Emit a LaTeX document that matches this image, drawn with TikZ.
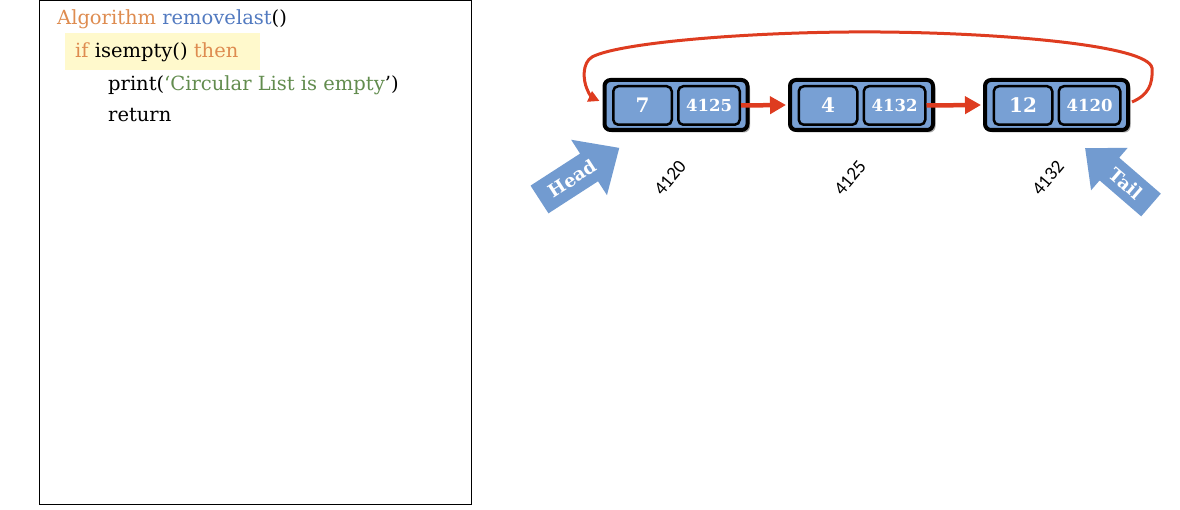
\documentclass[tikz,border=0pt]{standalone}
\usepackage{fontspec}
\setmainfont{DejaVu Serif}
\newfontfamily\addrfont{Carlito}
\usetikzlibrary{arrows.meta,shadows}
\definecolor{cellblue}{RGB}{120,160,212}
\definecolor{arrowblue}{RGB}{114,155,208}
\definecolor{linkred}{RGB}{222,60,32}
\definecolor{kworange}{RGB}{222,140,80}
\definecolor{fnblue}{RGB}{82,122,192}
\definecolor{strgreen}{RGB}{98,140,78}
\definecolor{hiyellow}{RGB}{255,249,204}
\begin{document}
\begin{tikzpicture}[x=1pt,y=-1pt,
  codeline/.style={anchor=base west, inner sep=0pt, font=\fontsize{19.5}{22}\selectfont},
  listnode/.style={draw=black, line width=4pt, fill=cellblue, rounded corners=6pt,
    minimum width=143pt, minimum height=50pt, inner sep=0pt,
    drop shadow={shadow xshift=2.5pt, shadow yshift=-2.5pt, opacity=0.35, fill=black}},
  cellbox/.style={draw=black, line width=2.5pt, fill=cellblue, rounded corners=5pt,
    minimum height=38.5pt, minimum width=58.5pt, inner sep=0pt, text=white},
  valtext/.style={font=\fontsize{20}{22}\selectfont\bfseries},
  ptrtext/.style={font=\fontsize{16.5}{18}\selectfont\bfseries},
  link/.style={draw=linkred, line width=4.5pt, -{Triangle[length=16pt,width=17pt]}},
  addr/.style={font=\addrfont\fontsize{19}{20}\selectfont, rotate=50, inner sep=0pt},
  bigarrow/.style={fill=arrowblue, draw=none},
  arrowtext/.style={text=white, font=\fontsize{18}{19}\selectfont\bfseries, inner sep=0pt}
]
\useasboundingbox (0,0) rectangle (1180,510);

% code panel
\node[draw=black, line width=1pt, minimum width=432pt, minimum height=503pt, inner sep=0pt] (frame) at (255,252.5) {};
\node[fill=hiyellow, minimum width=195pt, minimum height=37pt, inner sep=0pt] (hl) at (162.5,51.5) {};
\node[codeline] (l1) at (57,25) {\textcolor{kworange}{Algorithm} \textcolor{fnblue}{removelast}()};
\node[codeline] (l2) at (75,58) {\textcolor{kworange}{if} isempty() \textcolor{kworange}{then}};
\node[codeline] (l3) at (108,91) {print(\textcolor{strgreen}{‘Circular List is empty}')};
\node[codeline] (l4) at (108,122) {return};

% list nodes
\node[listnode] (n1) at (676,105) {};
\node[cellbox, valtext] (v1) at (642.5,105.5) {7};
\node[cellbox, ptrtext, minimum width=61.5pt] (p1) at (709,105.5) {4125};

\node[listnode] (n2) at (861.5,105) {};
\node[cellbox, valtext] (v2) at (828,105.5) {4};
\node[cellbox, ptrtext, minimum width=61.5pt] (p2) at (894.5,105.5) {4132};

\node[listnode] (n3) at (1056.5,105) {};
\node[cellbox, valtext] (v3) at (1023,105.5) {12};
\node[cellbox, ptrtext, minimum width=61.5pt] (p3) at (1089.5,105.5) {4120};

% links
\draw[link] (p1.east) -- ([xshift=-2pt]n2.west);
\draw[link] (p2.east) -- ([xshift=-2pt]n3.west);
\draw[draw=linkred, line width=3pt, -{Triangle[length=11pt,width=11pt]}]
  ([xshift=2pt,yshift=3pt]n3.east) .. controls (1148,95) and (1153,85) .. (1152,68)
  .. controls (1148,45) and (1000,33) .. (880,32)
  .. controls (760,31) and (620,42) .. (592,57)
  .. controls (582,63) and (583,80) .. (587,89)
  .. controls (589,95) and (593,98) .. ([xshift=-3pt,yshift=4pt]n1.west);

% addresses
\node[addr] (a1) at (670,178) {4120};
\node[addr] (a2) at (850,178) {4125};
\node[addr] (a3) at (1048,178) {4132};

% head arrow
\begin{scope}[shift={(539.5,199.5)}, rotate=32.9]
  \fill[bigarrow] (0,-16.5) -- (59,-16.5) -- (59,-33) -- (95,0) -- (59,33) -- (59,16.5) -- (0,16.5) -- cycle;
  \node[arrowtext, rotate=32.9] (head) at (39,0) {Head};
\end{scope}

% tail arrow
\begin{scope}[shift={(1151,205)}, rotate=139.2]
  \fill[bigarrow] (0,-15) -- (55,-15) -- (55,-28) -- (87,0) -- (55,28) -- (55,15) -- (0,15) -- cycle;
  \node[arrowtext, rotate=-40.8] (tail) at (33,0) {Tail};
\end{scope}
\end{tikzpicture}
\end{document}
